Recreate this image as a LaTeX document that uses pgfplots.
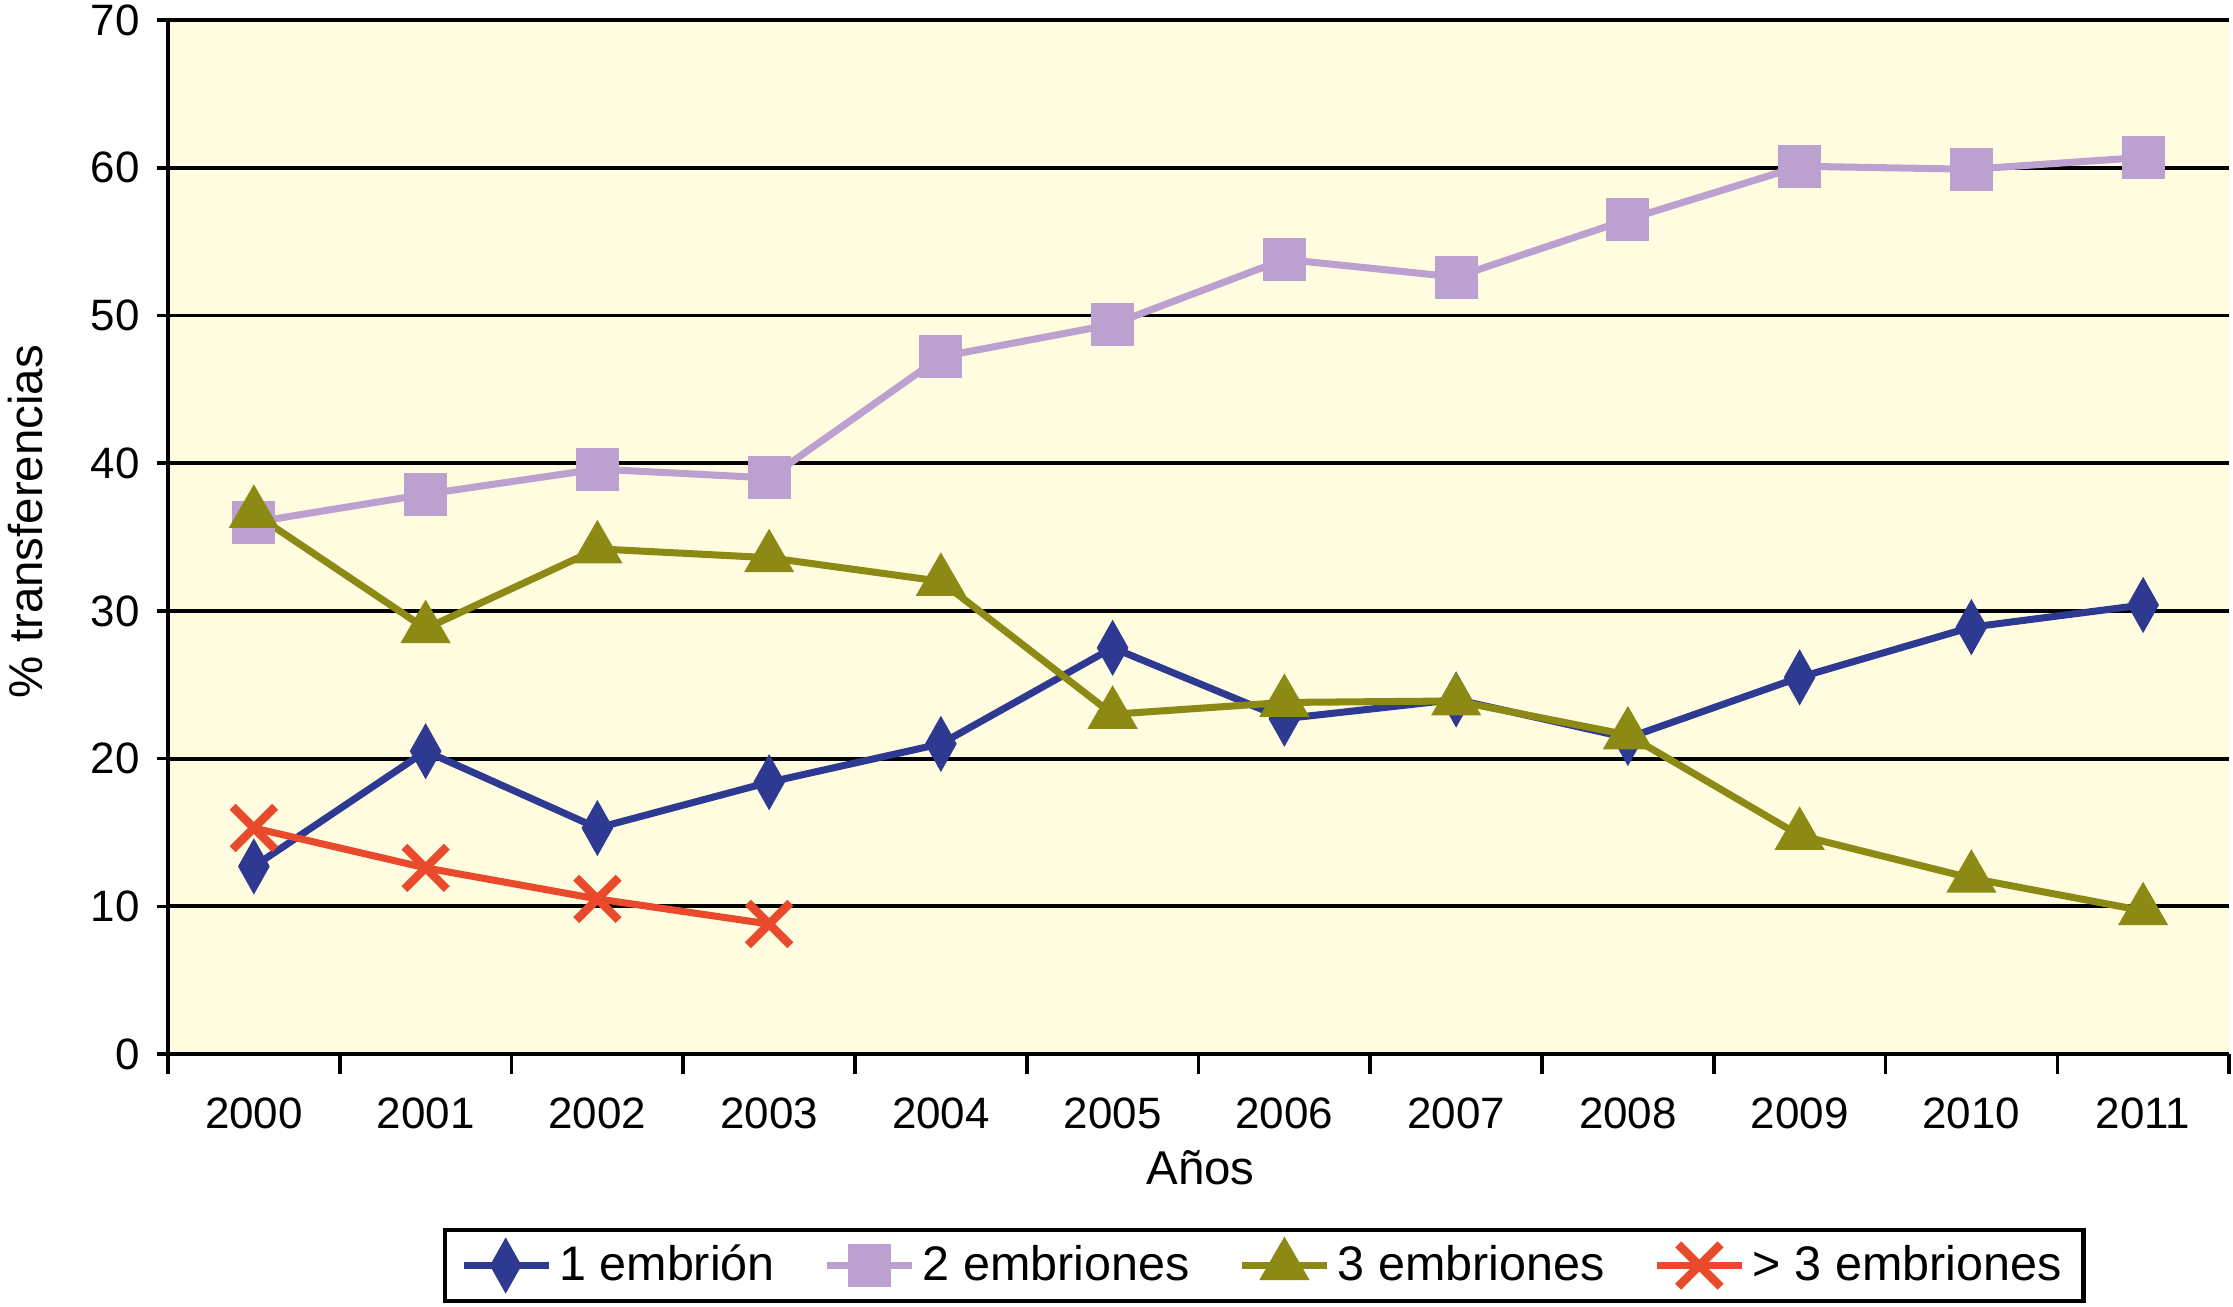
\documentclass[border=0pt]{standalone}
\usepackage{pgfplots}
\pgfplotsset{compat=1.18}
\usepackage{fontspec}
\setmainfont{Liberation Sans}

\definecolor{bgyellow}{HTML}{FFFCE0}
\definecolor{c1}{HTML}{2E3A92}
\definecolor{c2}{HTML}{BCA0D0}
\definecolor{c3}{HTML}{8C8A14}
\definecolor{c4}{HTML}{E94A2C}

\begin{document}
\begin{tikzpicture}
\useasboundingbox (-1.68cm,-2.53cm) rectangle (20.65cm,10.54cm);
\begin{axis}[
    at={(0,0)}, anchor=south west,
    scale only axis,
    width=20.61cm, height=10.34cm,
    axis lines*=left,
    every outer x axis line/.append style={-},
    every outer y axis line/.append style={-},
    axis line style={line width=1.3pt, black},
    axis background/.style={fill=bgyellow},
    xmin=-0.5, xmax=11.5,
    ymin=0, ymax=70,
    ytick={0,10,...,70},
    xtick={0,...,11},
    xticklabels={2000,2001,2002,2003,2004,2005,2006,2007,2008,2009,2010,2011},
    minor xtick={-0.5,0.5,...,11.5},
    xtick pos=left, ytick pos=left,
    tick align=outside,
    major tick length=0.11cm,
    minor tick length=0.2cm,
    major x tick style={draw=none},
    minor x tick style={black, line width=1pt},
    major y tick style={black, line width=1pt},
    ymajorgrids,
    major grid style={black, line width=1.1pt},
    /pgf/number format/assume math mode=true,
    tick label style={font=\fontsize{12.5}{15}\selectfont},
    xticklabel style={yshift=-0.2cm},
    yticklabel style={xshift=-0.05cm},
    xlabel={Años},
    ylabel={\% transferencias},
    label style={font=\fontsize{13.5}{16}\selectfont},
    xlabel style={at={(axis description cs:0.501,-0.110)}, anchor=center},
    ylabel style={at={(axis description cs:-0.0689,0.515)}, anchor=center},
    legend columns=4,
    legend style={at={(axis description cs:0.532,-0.168)}, anchor=north,
        draw=black, line width=1.3pt, fill=white,
        font=\fontsize{13.8}{16}\selectfont,
        inner xsep=0.15cm, inner ysep=0.08cm,
        /tikz/every even column/.append style={column sep=0.42cm}},
    legend image code/.code={
        \draw[mark repeat=2, mark phase=2, #1]
            plot coordinates {(0cm,0cm) (0.42cm,0cm) (0.85cm,0cm)};},
    every axis plot/.append style={line width=2pt},
]
% 1 embrion
\addplot[c1, mark=diamond*, mark size=0.21cm, mark options={xscale=0.75, solid}] coordinates {
(0,12.7) (1,20.5) (2,15.3) (3,18.4) (4,21.0) (5,27.5)
(6,22.7) (7,24.0) (8,21.4) (9,25.5) (10,28.9) (11,30.4)};
% 2 embriones
\addplot[c2, mark=square*, mark size=0.18cm] coordinates {
(0,36.0) (1,37.9) (2,39.6) (3,39.0) (4,47.2) (5,49.4)
(6,53.8) (7,52.6) (8,56.5) (9,60.1) (10,59.9) (11,60.7)};
% 3 embriones
\addplot[c3, mark=triangle*, mark size=0.22cm] coordinates {
(0,36.6) (1,28.8) (2,34.2) (3,33.6) (4,32.0) (5,23.0)
(6,23.8) (7,23.9) (8,21.6) (9,14.8) (10,11.9) (11,9.7)};
% > 3 embriones
\addplot[c4, mark=x, mark size=0.3cm, mark options={line width=2.4pt}] coordinates {
(0,15.3) (1,12.6) (2,10.5) (3,8.8)};
\legend{1 embrión, 2 embriones, 3 embriones, > 3 embriones}
\end{axis}
\end{tikzpicture}
\end{document}
